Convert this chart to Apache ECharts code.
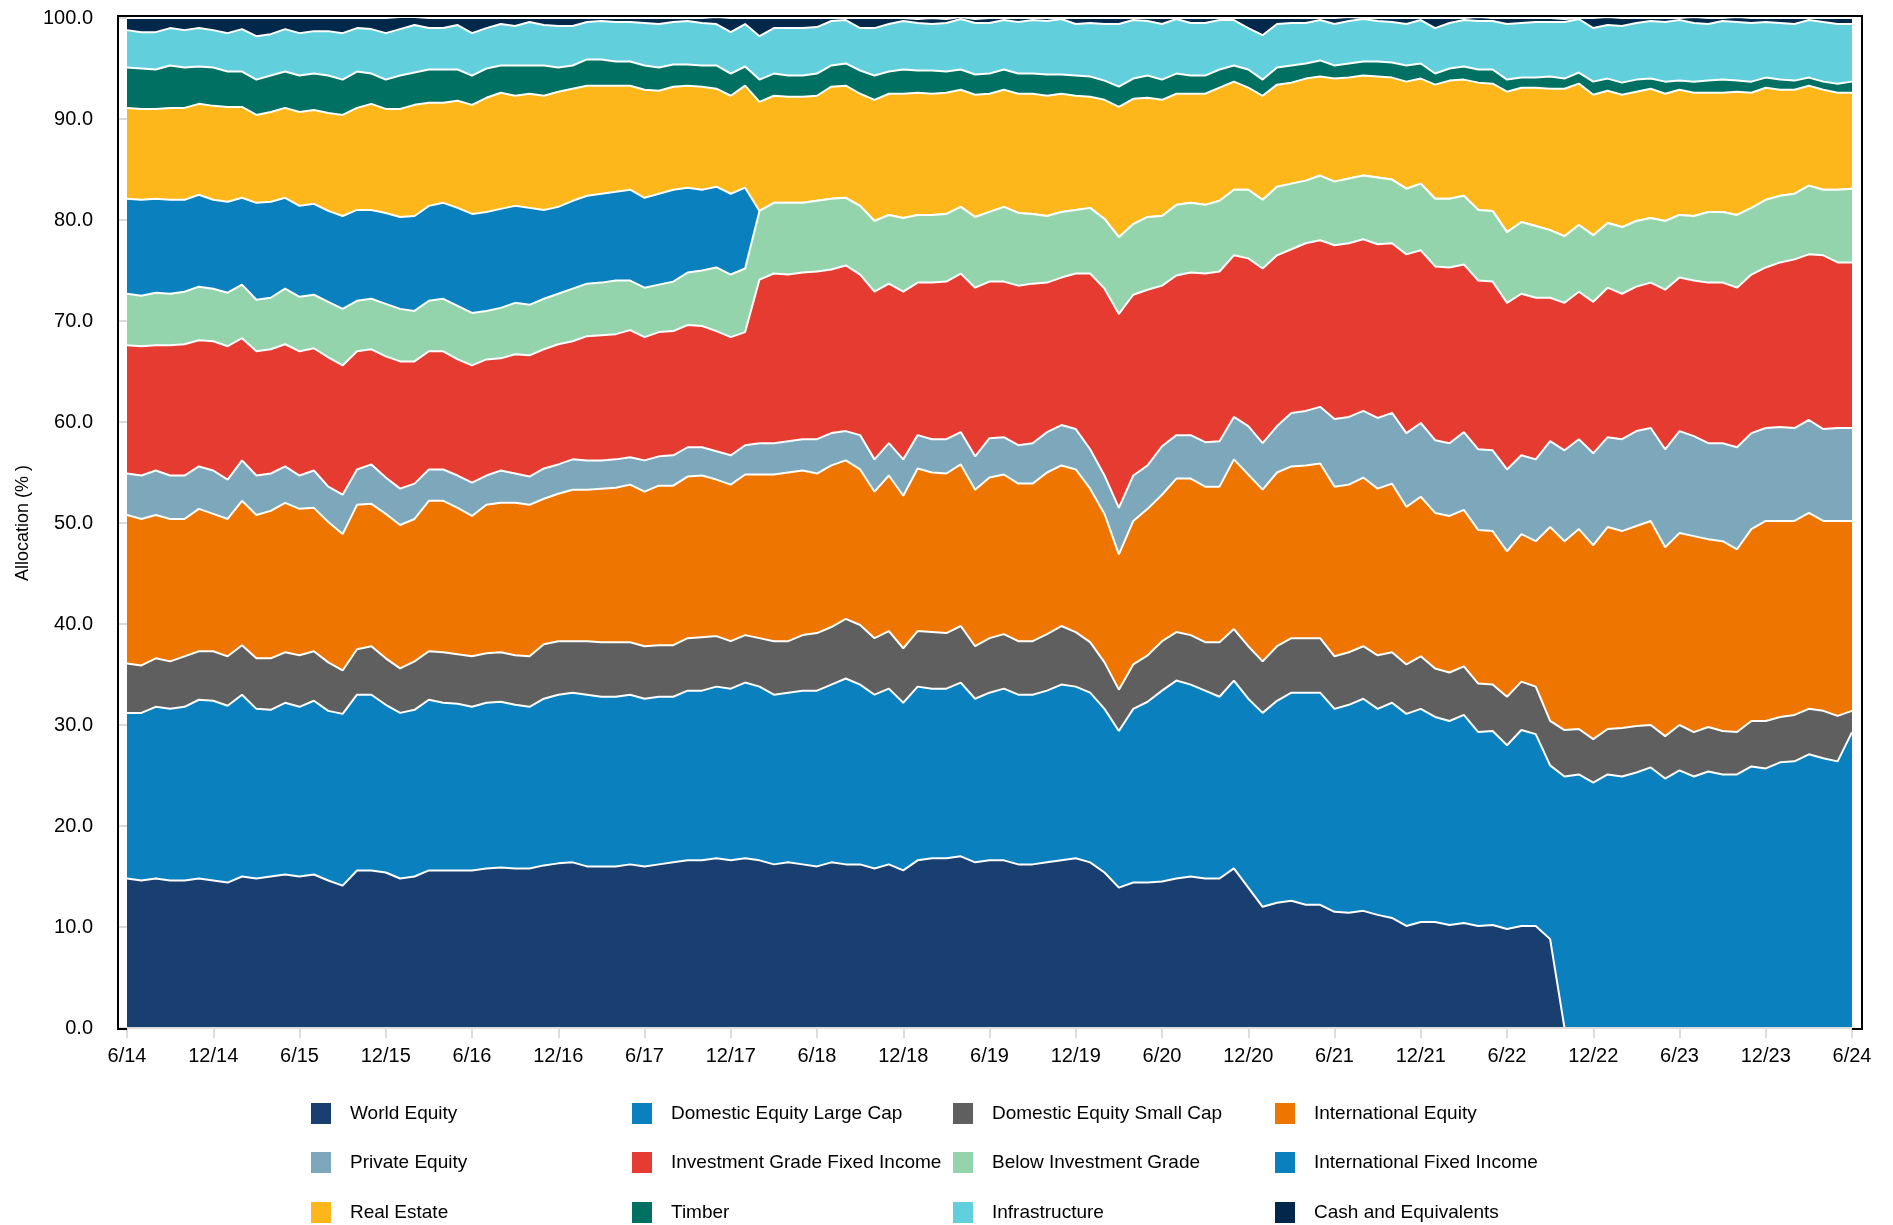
<!DOCTYPE html>
<html>
<head>
<meta charset="utf-8">
<script src="https://cdn.jsdelivr.net/npm/echarts/dist/echarts.min.js"></script>
<style>
html,body{margin:0;padding:0;background:#fff;}
#chart{width:1893px;height:1225px;}
</style>
</head>
<body>
<div id="chart"></div>
<script>
// ---------- categories (monthly, 6/14 .. 6/24) ----------
const months = [
  '6/14','7/14','8/14','9/14','10/14','11/14','12/14',
  '1/15','2/15','3/15','4/15','5/15','6/15','7/15','8/15','9/15','10/15','11/15','12/15',
  '1/16','2/16','3/16','4/16','5/16','6/16','7/16','8/16','9/16','10/16','11/16','12/16',
  '1/17','2/17','3/17','4/17','5/17','6/17','7/17','8/17','9/17','10/17','11/17','12/17',
  '1/18','2/18','3/18','4/18','5/18','6/18','7/18','8/18','9/18','10/18','11/18','12/18',
  '1/19','2/19','3/19','4/19','5/19','6/19','7/19','8/19','9/19','10/19','11/19','12/19',
  '1/20','2/20','3/20','4/20','5/20','6/20','7/20','8/20','9/20','10/20','11/20','12/20',
  '1/21','2/21','3/21','4/21','5/21','6/21','7/21','8/21','9/21','10/21','11/21','12/21',
  '1/22','2/22','3/22','4/22','5/22','6/22','7/22','8/22','9/22','10/22','11/22','12/22',
  '1/23','2/23','3/23','4/23','5/23','6/23','7/23','8/23','9/23','10/23','11/23','12/23',
  '1/24','2/24','3/24','4/24','5/24','6/24'
];

// ---------- series values (allocation %) ----------
const worldEquity = [
  14.8,14.6,14.8,14.6,14.6,14.8,14.6,14.4,15.0,14.8,15.0,15.2,15.0,15.2,14.6,14.1,15.6,15.6,15.4,14.8,15.0,15.6,15.6,15.6,15.6,15.8,
  15.9,15.8,15.8,16.1,16.3,16.4,16.0,16.0,16.0,16.2,16.0,16.2,16.4,16.6,16.6,16.8,16.6,16.8,16.6,16.2,16.4,16.2,16.0,16.4,16.2,16.2,15.8,16.2,15.6,16.6,16.8,16.8,
  17.0,16.4,16.6,16.6,16.2,16.2,16.4,16.6,16.8,16.4,15.4,13.9,14.4,14.4,14.5,14.8,15.0,14.8,14.8,15.8,13.9,12.0,12.4,12.6,12.2,12.2,11.5,11.4,11.6,11.2,10.9,
  10.1,10.5,10.5,10.2,10.4,10.1,10.2,9.8,10.1,10.1,8.8,
  0,0,0,0,0,0,0,0,0,0,0,0,0,0,0,0,0,0,0,0,0
];
const domesticLargeCap = [
  16.4,16.6,17.0,17.0,17.2,17.7,17.8,17.5,18.0,16.8,16.5,17.0,16.8,17.2,16.8,17.0,17.4,17.4,16.6,16.4,16.5,16.9,16.6,16.5,16.2,16.4,
  16.4,16.2,16.0,16.5,16.7,16.8,17.0,16.8,16.8,16.8,16.6,16.6,16.4,16.8,16.8,17.0,17.0,17.4,17.2,16.8,16.8,17.2,17.4,17.6,18.4,17.8,17.2,17.4,16.6,17.2,16.8,16.8,
  17.2,16.2,16.6,17.0,16.8,16.8,17.0,17.4,17.0,16.8,16.2,15.5,17.2,17.9,18.9,19.6,19.0,18.6,18.0,18.6,18.7,19.2,20.0,20.6,21.0,21.0,20.1,20.6,21.0,20.4,21.3,
  21.0,21.1,20.3,20.2,20.6,19.2,19.2,18.2,19.4,19.0,17.2,24.9,25.1,24.3,25.1,24.9,25.3,25.8,24.7,25.5,24.9,25.4,25.1,25.1,25.9,25.7,26.3,26.4,27.1,26.7,26.4,29.3
];
const domesticSmallCap = [
  4.9,4.7,4.8,4.7,5.0,4.8,4.9,4.9,4.9,5.0,5.1,5.0,5.1,4.9,4.8,4.3,4.5,4.8,4.6,4.4,4.8,4.8,5.0,4.9,5.0,4.9,
  4.9,4.9,5.0,5.4,5.3,5.1,5.3,5.4,5.4,5.2,5.2,5.1,5.1,5.2,5.3,5.0,4.7,4.7,4.8,5.3,5.1,5.5,5.7,5.7,5.9,5.9,5.6,5.7,5.4,5.5,5.6,5.5,
  5.6,5.2,5.4,5.4,5.3,5.3,5.6,5.8,5.4,5.0,4.6,4.1,4.4,4.6,4.9,4.8,4.9,4.8,5.4,5.1,5.2,5.1,5.4,5.4,5.4,5.4,5.2,5.2,5.2,5.3,5.0,
  4.9,5.2,4.8,4.8,4.8,4.8,4.6,4.8,4.8,4.7,4.4,4.6,4.5,4.3,4.5,4.8,4.6,4.2,4.2,4.5,4.4,4.4,4.3,4.2,4.5,4.7,4.5,4.6,4.5,4.7,4.5,2.1
];
const internationalEquity = [
  14.7,14.5,14.2,14.1,13.6,14.1,13.6,13.6,14.3,14.2,14.6,14.8,14.5,14.2,13.9,13.5,14.3,14.1,14.3,14.2,14.1,14.9,15.0,14.5,13.9,14.7,
  14.8,15.1,15.0,14.4,14.6,15.0,15.0,15.2,15.3,15.6,15.3,15.8,15.8,16.0,16.0,15.5,15.5,15.9,16.2,16.5,16.7,16.3,15.8,16.0,15.7,15.4,14.5,15.4,15.1,16.1,15.8,15.8,
  16.0,15.5,15.9,15.8,15.6,15.6,16.0,15.9,16.1,15.2,14.7,13.4,14.2,14.5,14.5,15.2,15.5,15.4,15.4,16.8,17.0,17.0,17.2,17.0,17.1,17.3,16.8,16.6,16.7,16.5,16.7,
  15.6,15.8,15.4,15.5,15.5,15.2,15.2,14.4,14.6,14.4,19.2,18.7,19.8,19.2,20.0,19.5,19.8,20.2,18.7,19.0,19.4,18.6,18.8,18.1,19.0,19.8,19.4,19.2,19.4,18.8,19.3,18.8
];
const privateEquity = [
  4.1,4.3,4.4,4.3,4.3,4.2,4.3,3.9,4.0,3.9,3.7,3.6,3.3,3.7,3.5,3.9,3.5,3.9,3.6,3.6,3.5,3.1,3.1,3.2,3.3,2.9,
  3.2,2.9,2.8,3.0,2.9,3.0,2.9,2.8,2.8,2.7,3.1,2.9,3.0,2.9,2.8,2.8,2.9,2.9,3.1,3.1,3.1,3.1,3.4,3.2,2.9,3.4,3.2,3.2,3.6,3.3,3.3,3.4,
  3.2,3.3,3.9,3.7,3.8,4.0,4.0,4.0,4.0,3.9,3.8,4.6,4.5,4.3,4.8,4.3,4.3,4.4,4.5,4.2,4.8,4.6,4.6,5.3,5.4,5.6,6.7,6.7,6.6,7.0,7.0,
  7.3,7.3,7.2,7.2,7.7,8.0,8.0,8.1,7.8,8.1,8.5,9.0,8.9,9.1,8.9,9.1,9.4,9.2,9.7,10.1,9.9,9.5,9.7,10.1,9.5,9.2,9.3,9.2,9.2,9.1,9.2,9.2
];
const investmentGradeFI = [
  12.7,12.8,12.4,12.9,13.0,12.5,12.8,13.2,12.1,12.3,12.3,12.1,12.3,12.1,12.8,12.8,11.7,11.4,12.0,12.6,12.1,11.7,11.7,11.5,11.6,11.5,
  11.1,11.8,12.0,11.8,11.9,11.7,12.3,12.4,12.4,12.6,12.2,12.3,12.3,12.1,12.0,11.9,11.7,11.2,16.2,16.8,16.5,16.5,16.6,16.2,16.4,15.9,16.6,15.8,16.6,15.1,15.5,15.6,
  15.7,16.7,15.5,15.4,15.8,15.8,14.8,14.6,15.4,17.4,18.5,19.2,17.9,17.4,15.9,15.8,16.1,16.7,16.8,16.0,16.6,17.3,16.9,16.2,16.6,16.5,17.2,17.2,17.0,17.2,16.8,
  17.7,17.1,17.2,17.4,16.6,16.7,16.7,16.5,16.0,16.0,14.2,14.6,14.6,15.0,14.8,14.4,14.3,14.4,15.8,15.2,15.4,15.9,15.9,15.8,15.7,15.9,16.3,16.7,16.4,17.2,16.4,16.4
];
const belowInvestmentGrade = [
  5.1,5.0,5.2,5.1,5.2,5.3,5.2,5.3,5.3,5.1,5.1,5.5,5.4,5.3,5.5,5.6,5.0,5.0,5.2,5.2,5.0,5.0,5.2,5.3,5.2,4.8,
  5.0,5.1,5.0,5.0,5.0,5.2,5.2,5.2,5.3,4.9,4.9,4.7,4.9,5.2,5.5,6.3,6.2,6.3,6.8,7.0,7.1,6.9,7.0,7.0,6.7,6.8,7.0,6.8,7.3,6.7,6.7,6.7,
  6.6,7.0,6.9,7.4,7.2,6.9,6.6,6.5,6.3,6.5,6.9,7.6,7.0,7.2,6.9,7.0,6.9,6.8,7.0,6.5,6.8,6.8,6.8,6.5,6.2,6.4,6.3,6.4,6.3,6.6,6.3,
  6.5,6.6,6.7,6.8,6.8,7.0,7.0,7.0,7.1,7.1,6.7,6.6,6.6,6.6,6.4,6.6,6.5,6.4,6.8,6.2,6.4,7.0,7.0,7.2,6.6,6.7,6.6,6.5,6.8,6.5,7.2,7.3
];
const internationalFI = [
  9.4,9.5,9.3,9.3,9.1,9.1,8.8,9.0,8.6,9.6,9.5,9.0,9.0,9.0,9.0,9.2,9.0,8.8,9.0,9.1,9.4,9.4,9.5,9.7,9.8,9.8,
  9.8,9.6,9.6,8.8,8.6,8.7,8.7,8.8,8.8,9.0,8.9,9.0,9.1,8.4,8.0,8.0,8.0,8.0,
  0,0,0,0,0,0,0,0,0,0,
  0,0,0,0,0,0,0,0,0,0,
  0,0,0,0,0,0,0,0,0,0,
  0,0,0,0,0,0,0,0,0,0,
  0,0,0,0,0,0,0,0,0,0,
  0,0,0,0,0,0,0,0,0,0,
  0,0,0,0,0,0,0,0,0,0,
  0,0,0,0,0,0,0
];
const realEstate = [
  9.0,9.0,8.9,9.1,9.1,9.0,9.3,9.4,9.0,8.7,8.9,8.9,9.3,9.3,9.7,10.0,10.1,10.5,10.3,10.7,11.0,10.2,9.9,10.6,10.8,11.3,
  11.5,10.9,11.3,11.3,11.4,11.1,10.9,10.7,10.5,10.3,10.7,10.2,10.2,10.1,10.2,9.7,9.7,10.1,10.8,10.6,10.5,10.5,10.4,11.1,11.1,11.1,12.0,12.0,12.3,12.1,12.0,12.0,
  11.6,12.1,11.7,11.6,11.8,11.9,11.9,11.7,11.3,11.0,11.8,12.9,12.4,11.8,11.5,11.0,10.8,11.0,11.2,10.7,10.1,10.3,10.1,10.0,10.1,9.8,10.2,10.0,9.9,10.0,10.1,
  10.6,10.4,11.3,11.7,11.5,12.6,12.6,13.9,13.3,13.7,14.0,14.6,14.0,13.9,13.1,13.1,12.8,12.8,12.6,12.4,12.2,11.8,11.8,12.2,11.4,11.1,10.5,10.3,9.9,9.9,9.6,9.5
];
const timber = [
  4.0,4.0,3.9,4.2,4.0,3.7,3.8,3.5,3.5,3.5,3.6,3.6,3.6,3.6,3.7,3.5,3.6,3.0,2.9,3.3,3.2,3.3,3.3,3.1,2.9,2.9,
  2.7,3.0,2.8,3.0,2.4,2.3,2.6,2.6,2.4,2.4,2.4,2.3,2.2,2.1,2.1,2.3,2.2,1.9,2.2,2.2,2.1,2.1,2.2,2.1,2.2,2.3,2.4,2.2,2.4,2.2,2.3,2.1,
  2.0,2.0,2.0,2.0,2.0,2.0,2.1,1.9,2.0,2.0,1.9,2.0,2.0,2.2,2.0,2.0,1.8,1.8,1.8,1.6,1.8,1.6,1.7,1.7,1.5,1.6,1.3,1.4,1.4,1.5,1.5,
  1.6,1.5,1.1,1.2,1.3,1.3,1.4,1.2,1.0,1.0,1.2,1.0,1.1,1.3,1.2,1.2,1.2,1.0,1.2,0.9,1.1,1.2,1.3,1.1,1.1,1.0,1.0,0.9,0.8,0.8,0.9,1.1
];
const infrastructure = [
  3.7,3.6,3.7,3.7,3.7,3.8,3.7,3.8,4.2,4.3,4.1,4.2,4.2,4.2,4.4,4.6,4.3,4.4,4.6,4.6,4.7,4.1,4.1,4.4,4.2,4.0,
  4.1,3.9,4.3,4.0,4.1,3.9,3.7,3.8,3.9,3.9,4.2,4.3,4.2,4.3,4.2,4.1,4.1,4.2,4.3,4.5,4.7,4.7,4.6,4.4,4.3,4.2,4.7,4.7,4.8,4.7,4.6,4.8,
  5.0,5.1,5.0,4.9,5.1,5.3,5.3,5.5,5.1,5.3,5.6,6.2,5.8,5.4,5.5,5.4,5.2,5.2,4.9,4.5,4.1,4.4,4.3,4.2,4.0,4.0,4.1,4.2,4.2,4.0,4.0,
  4.1,4.3,4.5,4.5,4.6,4.8,4.8,5.5,5.4,5.5,5.4,5.6,5.3,5.3,5.3,5.6,5.6,5.7,5.9,6.0,5.8,5.6,5.8,5.8,5.8,5.5,5.6,5.6,5.7,5.9,5.9,5.7
];
const cashEquivalents = [
  1.2,1.4,1.4,1.0,1.2,1.0,1.2,1.5,1.1,1.8,1.6,1.1,1.5,1.3,1.3,1.5,1.0,1.1,1.5,1.2,0.8,1.0,1.0,0.7,1.5,1.0,
  0.6,0.8,0.4,0.7,0.8,0.8,0.4,0.3,0.4,0.4,0.5,0.6,0.4,0.3,0.5,0.7,1.4,0.6,1.8,1.0,1.0,1.0,0.9,0.3,0.2,1.0,1.0,0.6,0.3,0.4,0.6,0.4,
  0.2,0.4,0.5,0.2,0.4,0.2,0.3,0.1,0.6,0.5,0.6,0.6,0.2,0.3,0.6,0.1,0.5,0.5,0.2,0.2,1.0,1.7,0.6,0.5,0.5,0.2,0.6,0.4,0.1,0.3,0.4,
  0.6,0.2,1.0,0.5,0.2,0.4,0.3,0.6,0.5,0.4,0.4,0.3,0.1,1.0,0.8,0.8,0.5,0.3,0.4,0.2,0.6,0.6,0.3,0.5,0.5,0.4,0.5,0.6,0.2,0.4,0.6,0.6
];

// ---------- tick labels ----------
const yTicks = [0,10,20,30,40,50,60,70,80,90,100];

// ---------- series definitions (stack order bottom -> top) ----------
const seriesDefs = [
  {name:'World Equity', data:worldEquity, color:'#183F70'},
  {name:'Domestic Equity Large Cap', data:domesticLargeCap, color:'#0B80BE'},
  {name:'Domestic Equity Small Cap', data:domesticSmallCap, color:'#5F5F5F'},
  {name:'International Equity', data:internationalEquity, color:'#EE7600'},
  {name:'Private Equity', data:privateEquity, color:'#7DA7BA'},
  {name:'Investment Grade Fixed Income', data:investmentGradeFI, color:'#E53B30'},
  {name:'Below Investment Grade', data:belowInvestmentGrade, color:'#93D4AC'},
  {name:'International Fixed Income', data:internationalFI, color:'#0B80BE'},
  {name:'Real Estate', data:realEstate, color:'#FDB71A'},
  {name:'Timber', data:timber, color:'#007062'},
  {name:'Infrastructure', data:infrastructure, color:'#62CFDD'},
  {name:'Cash and Equivalents', data:cashEquivalents, color:'#00284A'}
];

const FONT = "'Liberation Sans Narrow','Arial Narrow','Liberation Sans',Arial,sans-serif";

// legend grid: 3 rows x 4 columns
const legendRows = [
  ['World Equity','Domestic Equity Large Cap','Domestic Equity Small Cap','International Equity'],
  ['Private Equity','Investment Grade Fixed Income','Below Investment Grade','International Fixed Income'],
  ['Real Estate','Timber','Infrastructure','Cash and Equivalents']
];
const legendColX = [311, 632, 953, 1275];
const legendRowY = [1103, 1152, 1202];

const legends = [];
legendRows.forEach((row, r) => row.forEach((name, c) => {
  legends.push({
    data:[name], orient:'horizontal', left:legendColX[c], top:legendRowY[r], padding:0,
    itemWidth:20, itemHeight:21, icon:'rect', selectedMode:false,
    itemStyle:{borderWidth:0},
    textStyle:{fontFamily:FONT, fontSize:19, color:'#000', padding:[0,0,0,14]}
  });
}));

const badLen = seriesDefs.filter(s => s.data.length !== months.length).map(s => s.name + ':' + s.data.length);

const chart = echarts.init(document.getElementById('chart'), null, {renderer:'canvas'});
const option = {
  backgroundColor:'#ffffff',
  animation:false,
  title: badLen.length ? {text:'LEN ' + badLen.join(' '), left:300, top:300} : undefined,
  grid:{left:127, right:41, top:18, bottom:197, containLabel:false, outerBoundsMode:'none'},
  xAxis:{
    type:'category', data:months, boundaryGap:false, z:50,
    axisLine:{show:true, lineStyle:{color:'#dcdcdc', width:2}},
    axisTick:{show:true, length:10, lineStyle:{color:'#dcdcdc', width:2}, interval:(i)=> i % 6 === 0},
    axisLabel:{interval:(i)=> i % 6 === 0, margin:18, fontFamily:FONT, fontSize:20, color:'#000'},
    splitLine:{show:false}
  },
  yAxis:{
    type:'value', min:yTicks[0], max:yTicks[yTicks.length-1], interval:10, z:50,
    name:'Allocation (% )', nameLocation:'middle', nameRotate:90, nameGap:89,
    nameTextStyle:{fontFamily:FONT, fontSize:18, color:'#000'},
    axisLine:{show:false},
    axisTick:{show:true, length:8, lineStyle:{color:'#d0d0d0', width:1.5}},
    axisLabel:{margin:34, fontFamily:FONT, fontSize:20, color:'#000', formatter:(v)=> v.toFixed(1)},
    splitLine:{show:false}
  },
  legend: legends,
  graphic:[{
    type:'polyline', silent:true, z:300,
    shape:{points:[[127,1029],[118,1029],[118,16],[1862,16],[1862,1029],[1852,1029]]},
    style:{stroke:'#000', lineWidth:2, fill:null}
  }],
  series: seriesDefs.map((s, i) => ({
    name:s.name, type:'line', stack:'total', data:s.data,
    symbol:'none', showSymbol:false, smooth:false, z: 40 - i,
    lineStyle:{color:'#ffffff', width:2},
    areaStyle:{color:s.color, opacity:1},
    itemStyle:{color:s.color, borderWidth:0},
    emphasis:{disabled:true}
  }))
};
chart.setOption(option);
</script>
</body>
</html>
